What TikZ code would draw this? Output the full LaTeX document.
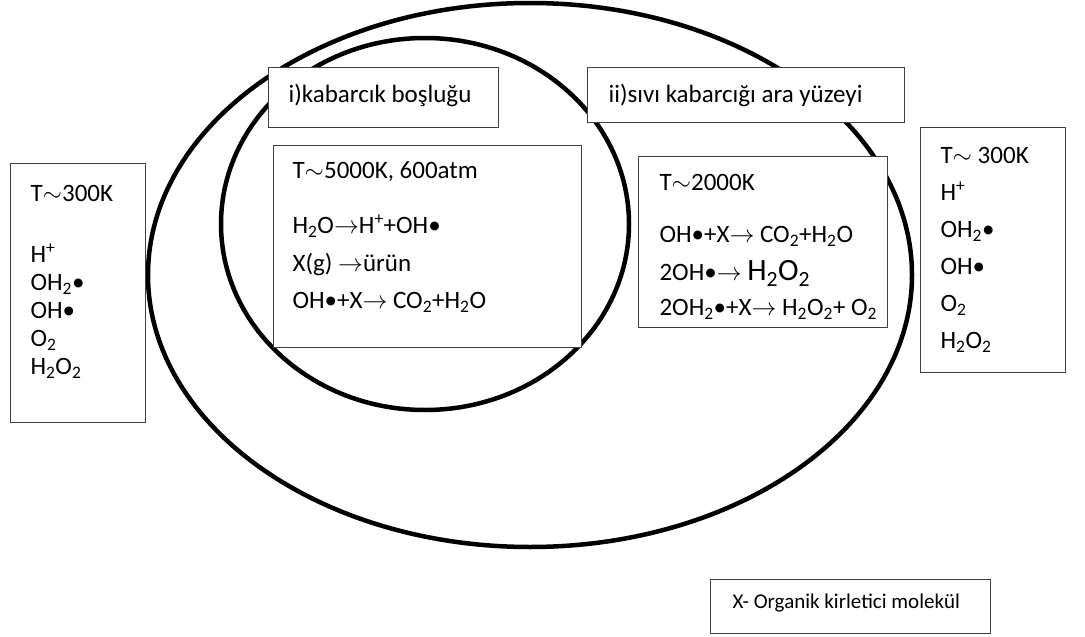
\documentclass[tikz,border=0pt]{standalone}
\usepackage{fontspec}
\setmainfont{Carlito}
\usetikzlibrary{positioning}
\tikzset{
  panel/.style={draw=black!75, line width=1.1pt, fill=white,
    rectangle, anchor=north west, inner sep=0pt},
  bubble/.style={draw, line width=4.5pt},
}
\newcommand{\panelfont}{\fontsize{25}{28}\selectfont}
\newcommand{\panelbody}[4]{\parbox[t][#2][t]{#1}{\panelfont\leftskip=#3\relax #4}}
\newcommand{\rad}{\textbullet}
\newcommand{\sub}[1]{\textsubscript{#1}}

\begin{document}
\begin{tikzpicture}[x=1pt,y=-1pt]
\useasboundingbox (0,0) rectangle (1085,637);

% bubble regions
\draw[bubble] (530,275) ellipse [x radius=382, y radius=272];
\draw[bubble] (425,224) ellipse [x radius=204, y radius=186];

% bulk liquid, left
\node[panel] (bulkL) at (10,163) {\panelbody{135pt}{259pt}{20pt}{%
  \rule{0pt}{38pt}T$\sim$300K\\[33pt]
  H\textsuperscript{+}\\
  OH\sub{2}\rad\\
  OH\rad\\
  O\sub{2}\\
  H\sub{2}O\sub{2}}};

% i) cavity
\node[panel] (cavTitle) at (268,67) {\panelbody{230pt}{60pt}{20pt}{%
  \rule{0pt}{35pt}i)kabarcık boşluğu}};
\node[panel] (cavBody) at (273,145) {\panelbody{308pt}{202pt}{19pt}{%
  \rule{0pt}{33pt}T$\sim$5000K, 600atm\\[27pt]
  H\sub{2}O$\rightarrow$H\textsuperscript{+}+OH\rad\\[10pt]
  X(g) $\rightarrow$ürün\\[9pt]
  OH\rad+X$\rightarrow$ CO\sub{2}+H\sub{2}O}};

% ii) interface
\node[panel] (intTitle) at (587,67) {\panelbody{317pt}{55pt}{21pt}{%
  \rule{0pt}{35pt}ii)sıvı kabarcığı ara yüzeyi}};
\node[panel] (intBody) at (638,156) {\panelbody{249pt}{171pt}{21pt}{%
  \rule{0pt}{34pt}T$\sim$2000K\\[24pt]
  OH\rad+X$\rightarrow$ CO\sub{2}+H\sub{2}O\\[10pt]
  2OH\rad$\rightarrow$ {\fontsize{31}{34}\selectfont H\sub{2}O\sub{2}}\\[7pt]
  2OH\sub{2}\rad+X$\rightarrow$ H\sub{2}O\sub{2}+ O\sub{2}}};

% bulk liquid, right
\node[panel] (bulkR) at (920,127) {\panelbody{145pt}{245pt}{20pt}{%
  \rule{0pt}{36pt}T$\sim$ 300K\\[9pt]
  H\textsuperscript{+}\\[9pt]
  OH\sub{2}\rad\\[9pt]
  OH\rad\\[9pt]
  O\sub{2}\\[9pt]
  H\sub{2}O\sub{2}}};

% legend
\node[panel] (legend) at (710,579) {\parbox[t][54pt][t]{280pt}{%
  \fontsize{21}{25}\selectfont\leftskip=22pt\relax
  \rule{0pt}{29pt}X- Organik kirletici molekül}};

\end{tikzpicture}
\end{document}
